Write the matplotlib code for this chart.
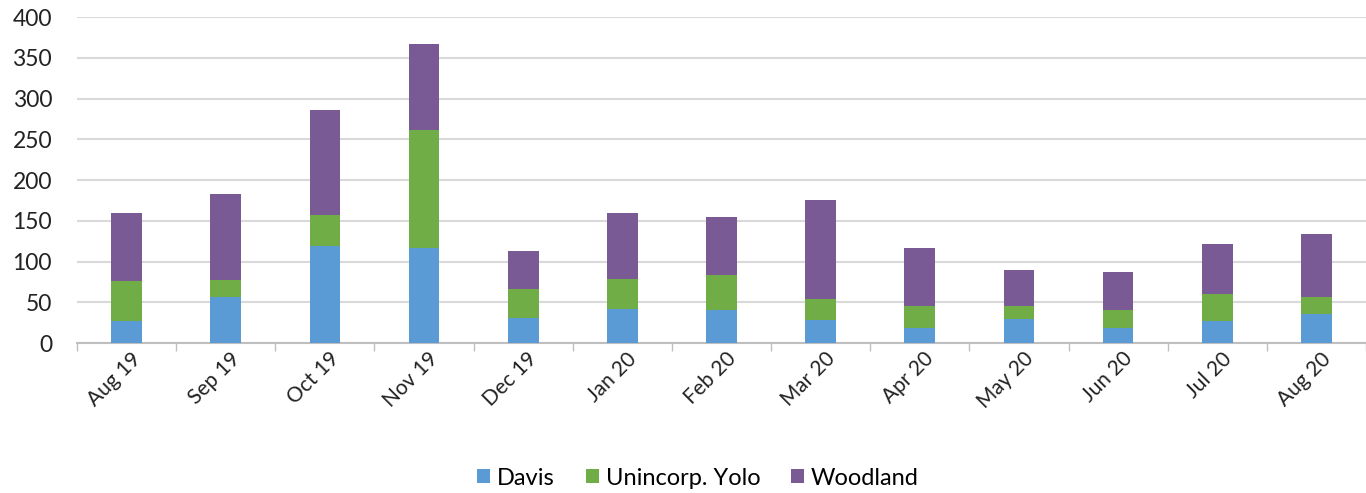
import matplotlib.pyplot as plt
import matplotlib.transforms as mtransforms
import numpy as np

# data
months = ["Aug 19", "Sep 19", "Oct 19", "Nov 19", "Dec 19", "Jan 20", "Feb 20",
          "Mar 20", "Apr 20", "May 20", "Jun 20", "Jul 20", "Aug 20"]
davis = [27, 57, 119, 117, 31, 42, 41, 28, 19, 30, 18, 27, 36]
unincorp_yolo = [49, 21, 38, 144, 35, 37, 42, 26, 27, 16, 23, 33, 21]
woodland = [83, 105, 129, 106, 47, 81, 72, 122, 71, 44, 46, 62, 77]

plt.rcParams['font.family'] = ['Lato', 'DejaVu Sans']

fig = plt.figure(figsize=(13.66, 4.93), dpi=100)
ax = fig.add_axes([0.0564, 0.304, 0.9436, 0.6615])

x = np.arange(len(months))
davis = np.array(davis)
unincorp_yolo = np.array(unincorp_yolo)
woodland = np.array(woodland)

w = 0.31
ax.bar(x, davis, w, color="#5b9bd5", label="Davis", zorder=3)
ax.bar(x, unincorp_yolo, w, bottom=davis, color="#70ad47", label="Unincorp. Yolo", zorder=3)
ax.bar(x, woodland, w, bottom=davis + unincorp_yolo, color="#7a5a94", label="Woodland", zorder=3)

ax.set_xlim(-0.5, len(months) - 0.5)
ax.set_ylim(0, 400)
ax.set_yticks(np.arange(0, 401, 50))
ax.yaxis.grid(True, color="#d9d9d9", linewidth=1.5, zorder=0)
ax.tick_params(axis="y", length=0, labelsize=16.5, pad=18, colors="#222222")

# category boundary ticks on x axis
ax.set_xticks(np.arange(-0.5, len(months), 1.0), minor=False)
ax.set_xticklabels([])
ax.tick_params(axis="x", which="major", length=6, color="#bfbfbf", width=1)
ax.set_xticks(x, minor=True)
ax.set_xticklabels(months, minor=True, rotation=45, ha="right", va="center",
                   rotation_mode="anchor", fontsize=15, color="#222222")
ax.tick_params(axis="x", which="minor", length=0, pad=9)
shift = mtransforms.ScaledTranslation(11 / 100, 0, fig.dpi_scale_trans)
for lab in ax.get_xticklabels(minor=True):
    lab.set_transform(lab.get_transform() + shift)

for s in ["top", "right", "left"]:
    ax.spines[s].set_visible(False)
ax.spines["bottom"].set_color("#bfbfbf")
ax.spines["bottom"].set_linewidth(1.5)

fig.legend(loc="center", bbox_to_anchor=(0.511, 0.03), ncol=3, frameon=False,
           fontsize=17, handlelength=0.55, handleheight=0.55, handletextpad=0.3,
           columnspacing=1.3)

plt.savefig("out.png", dpi=100)
